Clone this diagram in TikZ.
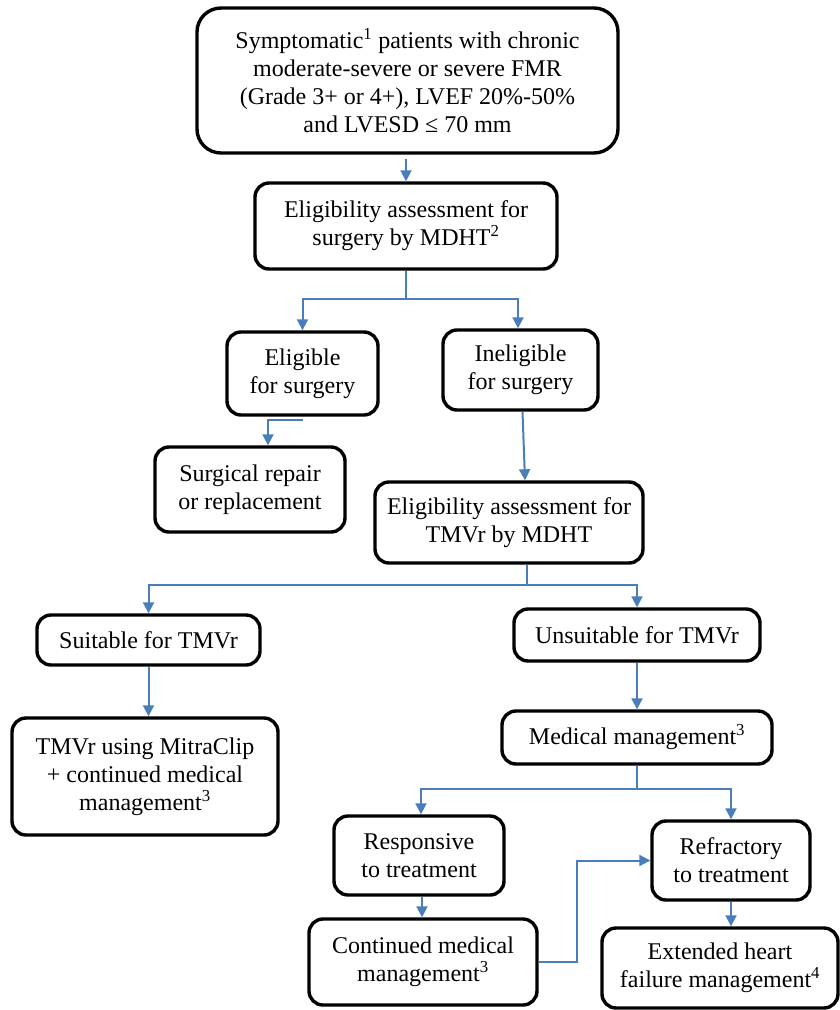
\documentclass[tikz,border=0pt]{standalone}
\usepackage{fontspec}
\setmainfont{Liberation Serif}
\usetikzlibrary{arrows.meta}
\definecolor{linkblue}{RGB}{74,126,187}
\begin{document}
\begin{tikzpicture}[x=1pt,y=-1pt,
  box/.style={draw=black, line width=3.4pt, rounded corners=14pt, align=center,
    font=\fontsize{24}{28}\selectfont, inner sep=0pt},
  bigbox/.style={box, rounded corners=24pt},
  arr/.style={draw=linkblue, line width=2pt, -{Triangle[length=11pt,width=11pt]}},
  ln/.style={draw=linkblue, line width=2pt}]
\useasboundingbox (0,0) rectangle (840,1010);

\node[bigbox, minimum width=421pt, minimum height=145pt] (top) at (407.5,80.5)
  {Symptomatic\textsuperscript{1} patients with chronic\\moderate-severe or severe FMR\\(Grade 3+ or 4+), LVEF 20\%-50\%\\and LVESD ≤ 70 mm};
\node[box, minimum width=302pt, minimum height=86pt] (elig) at (406,226)
  {Eligibility assessment for\\surgery by MDHT\textsuperscript{2}};
\node[box, minimum width=151pt, minimum height=83pt] (eligS) at (302.5,373.5)
  {Eligible\\for surgery};
\node[box, minimum width=155pt, minimum height=80pt] (inel) at (520.5,370)
  {Ineligible\\for surgery};
\node[box, minimum width=190pt, minimum height=85pt] (surg) at (250,489.5)
  {Surgical repair\\or replacement};
\node[box, minimum width=268pt, minimum height=81pt] (tmvr) at (509,522.5)
  {Eligibility assessment for\\TMVr by MDHT};
\node[box, minimum width=223pt, minimum height=50pt] (suit) at (148.5,640)
  {Suitable for TMVr};
\node[box, minimum width=246pt, minimum height=52pt] (unsuit) at (637,635)
  {Unsuitable for TMVr};
\node[box, minimum width=266pt, minimum height=117pt] (mitra) at (145,776.5)
  {TMVr using MitraClip\\+ continued medical\\management\textsuperscript{3}};
\node[box, minimum width=270pt, minimum height=53pt] (med) at (637,737.5)
  {Medical management\textsuperscript{3}};
\node[box, minimum width=170pt, minimum height=79pt] (resp) at (419,855.5)
  {Responsive\\to treatment};
\node[box, minimum width=158pt, minimum height=79pt] (refr) at (731,860.5)
  {Refractory\\to treatment};
\node[box, minimum width=228pt, minimum height=86pt] (cont) at (423,962)
  {Continued medical\\management\textsuperscript{3}};
\node[box, minimum width=236pt, minimum height=80pt] (ext) at (720,968)
  {Extended heart\\failure management\textsuperscript{4}};

% connectors
\draw[arr] ([yshift=-4pt]elig.north |- top.south) -- (elig.north);
\draw[ln] (elig.south) -- ++(0,28) coordinate (b1);
\draw[arr] (b1) -| (eligS.north);
\draw[arr] (b1) -| ([xshift=-2.5pt]inel.north);
\draw[arr] ([yshift=-3pt]eligS.south) -| ([xshift=18pt]surg.north);
\draw[arr] ([xshift=2pt]inel.south) -- ([xshift=4.5pt]inel.south |- tmvr.north);
\draw[ln] ([xshift=18pt]tmvr.south) -- ++(0,20) coordinate (b2);
\draw[arr] (b2) -| (suit.north);
\draw[arr] (b2) -| (unsuit.north);
\draw[arr] (suit.south) -- (suit.south |- mitra.north);
\draw[arr] (unsuit.south) -- (unsuit.south |- med.north);
\draw[ln] (med.south) -- ++(0,23) coordinate (b3);
\draw[arr] (b3) -| ([xshift=2pt]resp.north);
\draw[arr] (b3) -| (refr.north);
\draw[arr] ([xshift=3pt]resp.south) -- ([xshift=3pt]resp.south |- cont.north);
\draw[arr] (refr.south) -- (refr.south |- ext.north);
\draw[arr] (cont.east) -- ++(38,0) |- (refr.west);
\end{tikzpicture}
\end{document}
